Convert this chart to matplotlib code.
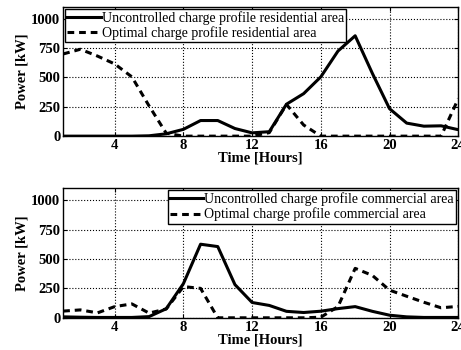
import numpy as np
import matplotlib
matplotlib.use("Agg")
import matplotlib.pyplot as plt

plt.rcParams['font.family'] = ['Liberation Serif', 'DejaVu Serif']

# hourly data (hour 1..24)
hours = list(range(1, 25))
res_uncontrolled = [0, 0, 0, 0, 0, 3, 20, 58, 133, 133, 65, 28, 38, 272,
                    362, 505, 725, 855, 535, 234, 111, 85, 88, 55]
res_optimal = [700, 740, 682, 615, 505, 258, 25, 0, 0, 0, 0, 0, 30, 270,
               95, 0, 0, 0, 0, 0, 0, 0, 0, 318]
com_uncontrolled = [8, 5, 3, 3, 3, 10, 77, 290, 625, 605, 282, 130, 105, 55,
                    45, 56, 78, 95, 55, 22, 8, 3, 3, 3]
com_optimal = [57, 67, 42, 95, 118, 40, 75, 265, 250, 0, 0, 0, 0, 0,
               0, 5, 95, 420, 360, 235, 183, 132, 85, 97]

xticks = [4, 8, 12, 16, 20, 24]
yticks = [0, 250, 500, 750, 1000]

panels = [
    (res_uncontrolled, res_optimal,
     'Uncontrolled charge profile residential area',
     'Optimal charge profile residential area', 'upper left'),
    (com_uncontrolled, com_optimal,
     'Uncontrolled charge profile commercial area',
     'Optimal charge profile commercial area', 'upper right'),
]

fig = plt.figure(figsize=(4.61, 3.5), dpi=100)
rects = [[0.137, 0.611, 0.857, 0.369], [0.137, 0.092, 0.857, 0.370]]

for rect, (unc, opt, lab1, lab2, loc) in zip(rects, panels):
    ax = fig.add_axes(rect)
    ax.plot(hours, unc, color='black', lw=2.2, label=lab1)
    ax.plot(hours, opt, color='black', lw=2.2, ls=(0, (2.2, 1.6)), label=lab2)
    ax.set_xlim(1, 24)
    ax.set_ylim(0, 1100)
    ax.set_xticks(xticks)
    ax.set_yticks(yticks)
    ax.grid(True, color='black', ls=':', lw=0.8)
    ax.tick_params(direction='in', top=True, right=True, length=3,
                   labelsize=10.5, pad=2)
    for t in ax.get_xticklabels() + ax.get_yticklabels():
        t.set_fontweight('bold')
    ax.set_xlabel('Time [Hours]', fontsize=10.5, fontweight='bold', labelpad=0)
    ax.set_ylabel('Power [kW]', fontsize=10.5, fontweight='bold', labelpad=2)
    for s in ax.spines.values():
        s.set_linewidth(1.0)
    leg = ax.legend(loc=loc, fontsize=10, handlelength=2.4, handletextpad=0.1,
                    borderpad=0.15, labelspacing=0.1, borderaxespad=0.15,
                    fancybox=False, framealpha=1, edgecolor='black')
    leg.get_frame().set_linewidth(1.0)

fig.savefig('out.png', dpi=100)
